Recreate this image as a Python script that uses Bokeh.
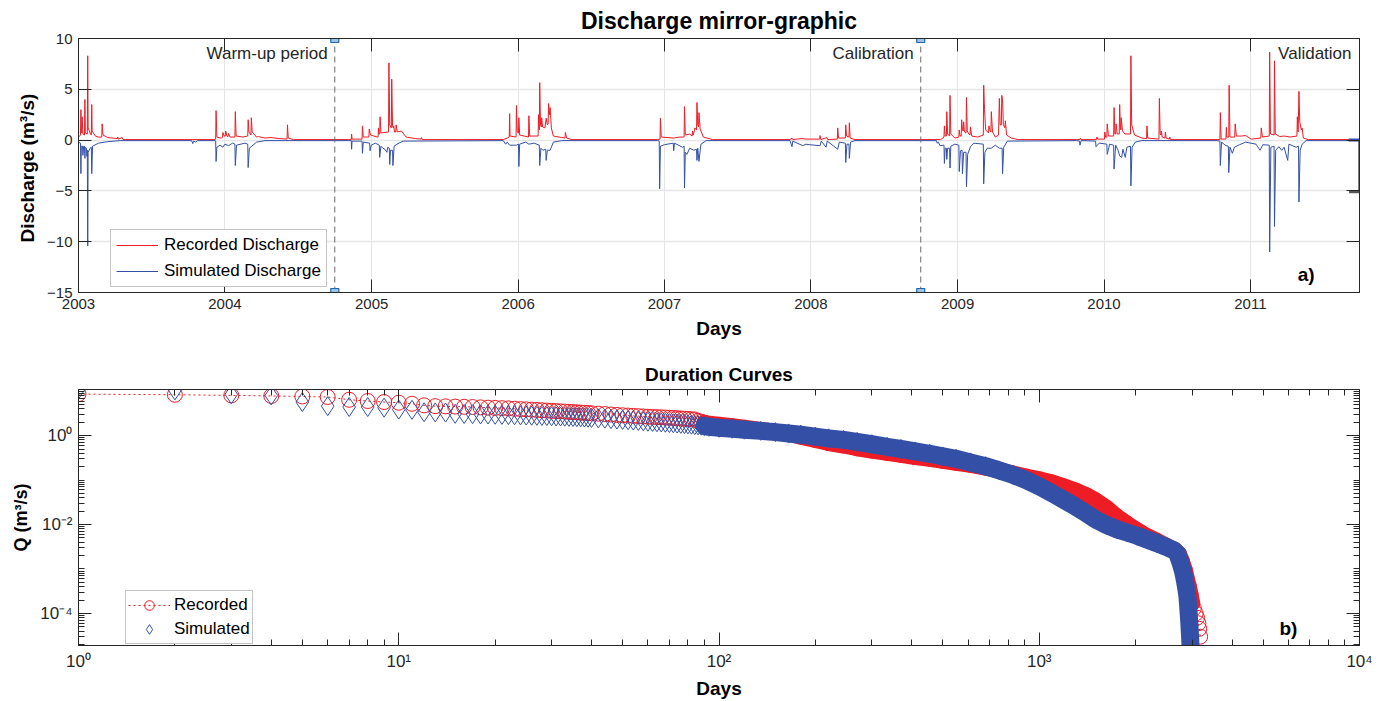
import numpy as np
import pandas as pd
from bokeh.plotting import figure
from bokeh.layouts import column
from bokeh.models import (Range1d, FixedTicker, DatetimeTickFormatter, LinearAxis,
                          LogAxis, Legend, LegendItem, CustomJSTickFormatter)
from bokeh.core.properties import value
from bokeh.embed import file_html
from bokeh.resources import INLINE

# ---------------- (a) discharge time series (m3/s) ----------------
rec_dates = [
    # 2003
    "2003-01-01", "2003-01-06", "2003-01-07", "2003-01-08", "2003-01-09", "2003-01-10", "2003-01-12",
    "2003-01-16", "2003-01-17", "2003-01-18", "2003-01-23", "2003-01-24", "2003-01-25", "2003-01-31",
    "2003-02-02", "2003-02-03", "2003-02-04", "2003-02-12", "2003-02-20", "2003-02-28", "2003-03-01",
    "2003-03-03", "2003-03-15", "2003-04-08", "2003-04-09", "2003-04-10", "2003-04-20", "2003-04-22",
    # 2003-2004
    "2003-12-08", "2003-12-09", "2003-12-10", "2003-12-12", "2003-12-22", "2003-12-26", "2003-12-27",
    "2003-12-30", "2004-01-02", "2004-01-03", "2004-01-06", "2004-01-09", "2004-01-10", "2004-01-14",
    "2004-01-26", "2004-01-27", "2004-01-29", "2004-02-15", "2004-02-27", "2004-02-28", "2004-03-01",
    "2004-03-06", "2004-03-07", "2004-03-09", "2004-03-20", "2004-03-25", "2004-04-10", "2004-04-25",
    "2004-05-15", "2004-06-04", "2004-06-05", "2004-06-07", "2004-06-20",
    # 2004-2005
    "2004-11-05", "2004-11-11", "2004-11-12", "2004-11-13", "2004-12-08", "2004-12-09", "2004-12-11",
    "2004-12-25", "2004-12-26", "2004-12-29", "2005-01-15", "2005-01-17", "2005-01-18", "2005-01-19",
    "2005-01-21", "2005-01-22", "2005-01-24", "2005-02-12", "2005-02-13", "2005-02-15", "2005-02-19",
    "2005-02-20", "2005-02-22", "2005-02-24", "2005-02-25", "2005-02-27", "2005-03-02", "2005-03-03",
    "2005-03-06", "2005-03-16", "2005-03-28", "2005-04-20", "2005-05-04", "2005-05-05", "2005-05-07",
    # 2005-2006
    "2005-11-25", "2005-12-05", "2005-12-10", "2005-12-11", "2005-12-12", "2005-12-27", "2005-12-28",
    "2005-12-30", "2006-01-02", "2006-01-03", "2006-01-05", "2006-01-27", "2006-01-28", "2006-01-30",
    "2006-02-20", "2006-02-21", "2006-02-23", "2006-02-24", "2006-02-26", "2006-02-28", "2006-03-01",
    "2006-03-03", "2006-03-09", "2006-03-12", "2006-03-15", "2006-03-17", "2006-03-18", "2006-03-20",
    "2006-03-22", "2006-03-25", "2006-03-30", "2006-04-20", "2006-04-28", "2006-04-29", "2006-05-02",
    "2006-05-15",
    # 2006-2007
    "2006-12-15", "2006-12-21", "2006-12-22", "2006-12-24", "2007-01-24", "2007-02-07", "2007-02-19",
    "2007-02-20", "2007-02-22", "2007-03-05", "2007-03-11", "2007-03-12", "2007-03-14", "2007-03-18",
    "2007-03-22", "2007-03-23", "2007-03-25", "2007-03-27", "2007-03-28", "2007-03-31", "2007-04-08",
    "2007-05-01",
    # 2007-2008
    "2007-11-10", "2007-11-15", "2007-11-17", "2007-12-10", "2007-12-20", "2008-01-23", "2008-01-24",
    "2008-01-26", "2008-02-10", "2008-02-12", "2008-03-07", "2008-03-08", "2008-03-10", "2008-03-27",
    "2008-03-28", "2008-03-30", "2008-04-05", "2008-04-06", "2008-04-08", "2008-04-20",
    # 2008-2009
    "2008-11-20", "2008-11-28", "2008-11-29", "2008-12-01", "2008-12-04", "2008-12-05", "2008-12-07",
    "2008-12-12", "2008-12-13", "2008-12-15", "2008-12-25", "2009-01-04", "2009-01-05", "2009-01-07",
    "2009-01-10", "2009-01-11", "2009-01-13", "2009-01-15", "2009-01-16", "2009-01-18", "2009-01-22",
    "2009-01-23", "2009-01-25", "2009-01-29", "2009-02-01", "2009-02-02", "2009-02-05", "2009-02-20",
    "2009-03-06", "2009-03-07", "2009-03-09", "2009-03-12", "2009-03-19", "2009-03-20", "2009-03-23",
    "2009-03-25", "2009-03-26", "2009-03-29", "2009-04-05", "2009-04-13", "2009-04-15", "2009-04-17",
    "2009-04-20", "2009-04-21", "2009-04-23", "2009-04-25", "2009-04-29", "2009-04-30", "2009-05-03",
    "2009-05-15", "2009-06-01",
    # 2009-2010
    "2009-10-25", "2009-11-02", "2009-11-03", "2009-11-05", "2009-12-13", "2009-12-14", "2009-12-16",
    "2010-01-02", "2010-01-03", "2010-01-05", "2010-01-08", "2010-01-09", "2010-01-12", "2010-01-25",
    "2010-01-26", "2010-01-28", "2010-01-30", "2010-01-31", "2010-02-03", "2010-02-08", "2010-02-09",
    "2010-02-11", "2010-02-12", "2010-02-13", "2010-02-16", "2010-02-22", "2010-03-08", "2010-03-09",
    "2010-03-11", "2010-03-18", "2010-04-06", "2010-04-17", "2010-04-18", "2010-04-20", "2010-05-18",
    "2010-05-19", "2010-05-21", "2010-05-23", "2010-05-24", "2010-05-26", "2010-06-02", "2010-06-03",
    "2010-06-05", "2010-06-13", "2010-06-14", "2010-06-16",
    # 2010-2011
    "2010-10-10", "2010-10-17", "2010-10-18", "2010-10-20", "2010-11-01", "2010-11-02", "2010-11-03",
    "2010-11-08", "2010-11-09", "2010-11-11", "2010-11-23", "2010-11-24", "2010-11-27", "2010-12-10",
    "2010-12-19", "2010-12-22", "2011-01-03", "2011-01-27", "2011-01-28", "2011-01-31", "2011-02-17",
    "2011-02-18", "2011-02-20", "2011-03-01", "2011-03-02", "2011-03-04", "2011-03-15", "2011-03-26",
    "2011-04-10", "2011-04-27", "2011-04-28", "2011-04-30", "2011-05-02", "2011-05-04", "2011-05-08",
    "2011-05-10", "2011-05-13", "2011-05-25", "2011-09-30",
]
rec_q = [
    # 2003
    0.3, 0.5, 3.0, 0.8, 0.7, 2.3, 0.6,
    0.5, 4.0, 0.7, 0.6, 8.3, 1.2, 0.6,
    0.5, 3.5, 0.9, 0.4, 0.3, 0.3, 1.6,
    0.5, 0.25, 0.15, 0.3, 0.1, 0.25, 0.05,
    # 2003-2004
    0.05, 0.1, 2.9, 0.3, 0.2, 0.25, 0.75,
    0.4, 0.4, 0.9, 0.4, 0.35, 0.65, 0.3,
    0.3, 2.8, 0.4, 0.3, 0.4, 2.0, 0.8,
    0.5, 2.2, 0.8, 0.3, 0.35, 0.2, 0.25,
    0.15, 0.1, 1.5, 0.2, 0.05,
    # 2004-2005
    0.05, 0.05, 0.6, 0.1, 0.1, 1.4, 0.3,
    0.3, 1.1, 0.5, 0.3, 0.3, 1.2, 0.6,
    0.6, 2.3, 0.7, 0.8, 7.6, 1.5, 1.2,
    6.0, 1.4, 1.2, 1.4, 0.8, 0.8, 1.5,
    0.8, 0.9, 0.3, 0.15, 0.1, 0.25, 0.05,
    # 2005-2006
    0.05, 0.2, 0.3, 2.6, 0.4, 0.3, 3.4,
    0.8, 0.7, 2.2, 0.5, 0.3, 2.4, 0.4,
    0.4, 2.5, 1.0, 5.65, 1.5, 1.3, 2.2,
    1.3, 1.2, 2.15, 1.5, 1.6, 3.6, 2.5,
    3.2, 1.2, 0.4, 0.25, 0.2, 0.75, 0.2,
    0.05,
    # 2006-2007
    0.05, 0.1, 2.15, 0.3, 0.2, 0.3, 0.3,
    3.3, 0.5, 0.6, 0.4, 0.9, 0.5, 1.2,
    1.0, 3.7, 1.5, 1.3, 2.7, 1.1, 0.3,
    0.05,
    # 2007-2008
    0.05, 0.2, 0.05, 0.15, 0.1, 0.1, 0.45,
    0.05, 0.25, 0.05, 0.1, 1.2, 0.2, 0.2,
    1.5, 0.4, 0.3, 1.7, 0.2, 0.05,
    # 2008-2009
    0.05, 0.3, 1.4, 0.4, 0.4, 2.8, 0.6,
    0.4, 4.4, 0.6, 0.2, 0.3, 1.0, 0.4,
    0.4, 2.0, 1.0, 0.9, 1.8, 0.8, 0.7,
    4.2, 0.9, 0.6, 0.5, 1.3, 0.4, 0.3,
    0.5, 5.4, 3.0, 1.0, 0.7, 1.4, 0.9,
    0.8, 2.8, 0.8, 0.3, 0.5, 4.1, 1.5,
    1.5, 4.4, 4.0, 1.5, 1.2, 1.9, 0.5,
    0.2, 0.05,
    # 2009-2010
    0.05, 0.05, 0.2, 0.05, 0.05, 0.3, 0.1,
    0.1, 0.8, 0.3, 0.3, 1.6, 0.4, 0.4,
    3.2, 0.6, 0.6, 1.6, 0.6, 0.6, 3.5,
    1.2, 1.0, 2.2, 0.9, 0.6, 0.6, 8.3,
    1.5, 0.5, 0.2, 0.15, 1.4, 0.2, 0.1,
    4.1, 0.6, 0.5, 0.9, 0.3, 0.2, 0.8,
    0.2, 0.1, 0.3, 0.05,
    # 2010-2011
    0.05, 0.05, 2.7, 0.1, 0.1, 1.25, 0.3,
    0.3, 5.4, 0.3, 0.3, 1.6, 0.4, 0.4,
    0.45, 0.4, 0.1, 0.2, 1.2, 0.3, 0.4,
    8.65, 0.6, 0.5, 7.8, 0.6, 0.35, 0.4,
    0.3, 0.4, 2.3, 0.8, 4.8, 1.8, 1.0,
    1.2, 0.2, 0.05, 0.05,
]

sim_dates = [
    # 2003
    "2003-01-01", "2003-01-06", "2003-01-07", "2003-01-08", "2003-01-11", "2003-01-12", "2003-01-14",
    "2003-01-16", "2003-01-17", "2003-01-18", "2003-01-21", "2003-01-22", "2003-01-23", "2003-01-24",
    "2003-01-25", "2003-01-30", "2003-02-02", "2003-02-03", "2003-02-05", "2003-02-20", "2003-03-15",
    "2003-04-15", "2003-10-10", "2003-10-13", "2003-10-15", "2003-10-20", "2003-10-25",
    # 2003-2004
    "2003-12-08", "2003-12-09", "2003-12-10", "2003-12-12", "2003-12-20", "2003-12-27", "2004-01-01",
    "2004-01-10", "2004-01-20", "2004-01-26", "2004-01-27", "2004-01-30", "2004-02-20", "2004-02-27",
    "2004-02-28", "2004-03-02", "2004-03-08", "2004-03-20", "2004-04-10",
    # 2004-2005
    "2004-11-05", "2004-11-11", "2004-11-12", "2004-11-13", "2004-12-08", "2004-12-09", "2004-12-11",
    "2004-12-27", "2004-12-28", "2004-12-31", "2005-01-10", "2005-01-20", "2005-01-21", "2005-01-24",
    "2005-01-29", "2005-02-03", "2005-02-08", "2005-02-10", "2005-02-14", "2005-02-15", "2005-02-17",
    "2005-02-22", "2005-02-23", "2005-02-26", "2005-03-05", "2005-03-20",
    # 2005-2006
    "2005-11-25", "2005-12-01", "2005-12-05", "2005-12-11", "2005-12-28", "2006-01-02", "2006-01-03",
    "2006-01-05", "2006-01-20", "2006-01-28", "2006-02-10", "2006-02-23", "2006-02-24", "2006-02-27",
    "2006-03-04", "2006-03-11", "2006-03-12", "2006-03-15", "2006-03-22", "2006-03-30", "2006-04-20",
    # 2006-2007
    "2006-12-15", "2006-12-19", "2006-12-20", "2006-12-22", "2007-01-01", "2007-01-23", "2007-01-24",
    "2007-01-26", "2007-02-15", "2007-02-19", "2007-02-20", "2007-02-22", "2007-02-26", "2007-03-05",
    "2007-03-15", "2007-03-22", "2007-03-23", "2007-03-25", "2007-03-28", "2007-04-02", "2007-04-15",
    # 2007-2008
    "2007-11-10", "2007-11-15", "2007-11-17", "2007-12-12", "2007-12-20", "2007-12-28", "2008-01-24",
    "2008-01-27", "2008-02-08", "2008-02-11", "2008-03-08", "2008-03-12", "2008-03-27", "2008-03-28",
    "2008-03-31", "2008-04-05", "2008-04-06", "2008-04-09", "2008-04-20", "2008-11-09", "2008-11-11",
    "2008-11-14", "2008-11-18",
    # 2008-2009
    "2008-11-28", "2008-11-29", "2008-12-01", "2008-12-04", "2008-12-05", "2008-12-07", "2008-12-12",
    "2008-12-13", "2008-12-15", "2008-12-25", "2009-01-04", "2009-01-05", "2009-01-08", "2009-01-12",
    "2009-01-13", "2009-01-16", "2009-01-22", "2009-01-23", "2009-01-26", "2009-02-02", "2009-02-10",
    "2009-03-06", "2009-03-07", "2009-03-10", "2009-03-16", "2009-03-26", "2009-04-05", "2009-04-15",
    "2009-04-22", "2009-04-23", "2009-04-26", "2009-05-05",
    # 2009-2010
    "2009-10-25", "2009-11-01", "2009-11-02", "2009-11-05", "2009-12-11", "2009-12-12", "2009-12-20",
    "2010-01-08", "2010-01-09", "2010-01-15", "2010-01-25", "2010-01-26", "2010-01-30", "2010-02-05",
    "2010-02-09", "2010-02-14", "2010-02-17", "2010-02-23", "2010-02-27", "2010-03-08", "2010-03-09",
    "2010-03-12", "2010-03-20", "2010-04-05",
    # 2010-2011
    "2010-10-10", "2010-10-17", "2010-10-18", "2010-10-21", "2010-11-01", "2010-11-07", "2010-11-08",
    "2010-11-11", "2010-11-17", "2010-11-22", "2010-12-05", "2010-12-20", "2011-01-15", "2011-01-25",
    "2011-02-01", "2011-02-17", "2011-02-18", "2011-02-21", "2011-03-01", "2011-03-02", "2011-03-05",
    "2011-03-13", "2011-03-20", "2011-03-26", "2011-04-04", "2011-04-07", "2011-04-25", "2011-05-01",
    "2011-05-02", "2011-05-05", "2011-05-10", "2011-05-20", "2011-09-30",
]
sim_q = [
    # 2003
    0.2, 0.3, 3.3, 0.6, 0.6, 1.5, 0.6,
    0.6, 1.8, 0.7, 0.8, 1.6, 1.0, 10.4,
    1.2, 0.8, 0.7, 3.3, 0.6, 0.3, 0.15,
    0.05, 0.05, 0.35, 0.1, 0.2, 0.05,
    # 2003-2004
    0.05, 0.1, 2.1, 0.7, 0.5, 0.7, 0.4,
    0.55, 0.3, 0.4, 2.5, 0.5, 0.3, 0.4,
    2.7, 0.8, 0.6, 0.2, 0.05,
    # 2004-2005
    0.05, 0.05, 0.9, 0.1, 0.1, 1.3, 0.2,
    0.3, 1.05, 0.5, 0.3, 0.5, 1.7, 0.6,
    0.8, 0.9, 1.2, 0.7, 0.8, 2.4, 1.0,
    1.0, 2.5, 0.6, 0.4, 0.1,
    # 2005-2006
    0.05, 0.4, 0.2, 0.5, 0.5, 0.4, 2.6,
    0.4, 0.2, 0.4, 0.3, 0.5, 2.5, 0.8,
    1.0, 0.9, 2.0, 1.0, 1.0, 0.2, 0.05,
    # 2006-2007
    0.05, 0.1, 4.8, 0.6, 0.45, 0.3, 1.05,
    0.3, 0.7, 0.6, 4.7, 1.2, 1.4, 0.8,
    1.0, 0.9, 2.0, 0.8, 2.1, 0.4, 0.05,
    # 2007-2008
    0.05, 0.65, 0.1, 0.55, 0.4, 0.45, 0.55,
    0.1, 0.7, 0.1, 0.9, 0.2, 0.3, 2.2,
    0.4, 0.4, 1.8, 0.2, 0.05, 0.05, 0.3,
    0.2, 0.55,
    # 2008-2009
    0.5, 2.3, 0.8, 0.8, 1.9, 0.8, 0.8,
    2.75, 0.6, 0.4, 0.5, 3.1, 1.05, 1.0,
    3.3, 1.2, 1.2, 4.6, 1.4, 0.65, 0.3,
    0.4, 4.3, 1.2, 0.8, 0.8, 0.5, 0.8,
    0.8, 3.3, 0.7, 0.1,
    # 2009-2010
    0.05, 0.1, 0.5, 0.05, 0.1, 0.65, 0.3,
    0.4, 1.4, 0.4, 0.5, 2.85, 0.5, 1.0,
    1.55, 1.7, 0.9, 1.7, 0.7, 0.6, 4.5,
    0.7, 0.2, 0.05,
    # 2010-2011
    0.05, 0.1, 2.5, 0.2, 0.55, 0.6, 3.2,
    0.7, 1.3, 0.7, 0.45, 0.2, 0.4, 1.0,
    0.45, 0.5, 11.0, 0.7, 0.6, 8.5, 1.0,
    0.65, 1.0, 0.7, 2.0, 0.4, 0.7, 0.6,
    6.1, 1.0, 0.4, 0.05, 0.05,
]

period_ends = ["2004-10-01", "2008-10-01"]
period_labels = ["Warm-up period", "Calibration", "Validation"]
year_ticks = [str(y) for y in range(2003, 2012)]

# ---------------- (b) duration curves ----------------
rec_rank = list(range(1, 41)) + [42, 44, 46, 48, 50, 52, 54, 56, 58, 60,
                                62, 64, 66, 68, 70, 72, 74, 76, 78, 80,
                                82, 84, 86, 88, 90]
rec_rank_q = [8.6, 8.3, 8.05, 7.8, 7.6, 7.4, 6.4, 6.0, 5.7, 5.5,
              5.2, 4.8, 4.6, 4.55, 4.5, 4.45, 4.4, 4.32, 4.25, 4.2,
              4.15, 4.1, 4.02, 3.95, 3.9, 3.84, 3.78, 3.72, 3.66, 3.6,
              3.56, 3.52, 3.47, 3.42, 3.38, 3.34, 3.3, 3.26, 3.22, 3.18,
              3.12, 3.05, 2.98, 2.92, 2.87, 2.82, 2.78, 2.74, 2.7, 2.66,
              2.63, 2.6, 2.58, 2.55, 2.52, 2.49, 2.46, 2.43, 2.4, 2.37,
              2.34, 2.3, 2.15, 2.05, 1.95]
rec_tail_rank = [93, 100, 110, 120, 135, 150, 165, 180, 200, 220, 245, 270, 300, 335, 370,
                 410, 455, 500, 550, 610, 680, 750, 830, 910, 1000, 1100, 1200, 1300, 1400,
                 1500, 1620, 1750, 1880, 2020, 2170, 2330, 2500, 2640, 2730, 2790, 2850,
                 2890, 2933, 2970, 3004]
rec_tail_q = [1.85, 1.75, 1.62, 1.5, 1.35, 1.22, 1.1, 0.95, 0.8, 0.68, 0.6, 0.52, 0.46, 0.41, 0.37,
              0.33, 0.3, 0.27, 0.245, 0.22, 0.19, 0.165, 0.14, 0.12, 0.104, 0.088, 0.071, 0.058, 0.046,
              0.035, 0.024, 0.015, 0.0105, 0.0075, 0.0055, 0.0043, 0.0033, 0.0027, 0.0022, 0.0015, 0.00094,
              0.0006, 0.0004, 0.00026, 0.00017]
rec_end_rank = [3040, 3080, 3110, 3140, 3160, 3180]
rec_end_q = [0.00013, 0.0001, 0.00008, 0.00006, 0.000045, 0.00003]

sim_rank = list(range(1, 41)) + [42, 44, 46, 48, 50, 52, 54, 56, 58, 60,
                                62, 64, 66, 68, 70, 72, 74, 76, 78, 80,
                                82, 84, 86, 88, 90]
sim_rank_q = [10.9, 10.4, 8.5, 8.0, 5.7, 4.6, 4.4, 4.4, 4.25, 3.85,
              3.8, 3.35, 3.33, 3.3, 3.1, 3.07, 3.04, 3.0, 2.98, 2.95,
              2.93, 2.9, 2.88, 2.85, 2.83, 2.8, 2.79, 2.77, 2.75, 2.73,
              2.71, 2.69, 2.66, 2.64, 2.62, 2.6, 2.58, 2.55, 2.53, 2.5,
              2.45, 2.4, 2.35, 2.3, 2.26, 2.22, 2.18, 2.14, 2.1, 2.06,
              2.03, 2.0, 1.98, 1.95, 1.92, 1.9, 1.87, 1.84, 1.82, 1.79,
              1.76, 1.72, 1.7, 1.67, 1.64]
sim_tail_rank = [93, 100, 110, 120, 135, 150, 165, 180, 200, 220, 245, 270, 300, 335, 370,
                 410, 455, 500, 550, 610, 680, 750, 830, 910, 1000, 1100, 1200, 1300, 1400,
                 1500, 1620, 1750, 1880, 2020, 2170, 2330, 2500, 2640, 2700, 2760, 2810,
                 2850, 2880, 2900, 2915, 2928, 2940, 2950, 2958, 2965]
sim_tail_q = [1.58, 1.5, 1.43, 1.36, 1.28, 1.2, 1.12, 1.05, 0.95, 0.87, 0.8, 0.72, 0.64, 0.56, 0.5,
              0.44, 0.39, 0.34, 0.3, 0.25, 0.205, 0.165, 0.13, 0.1, 0.072, 0.05, 0.035, 0.025, 0.018,
              0.013, 0.0098, 0.0078, 0.0066, 0.0056, 0.0046, 0.0038, 0.0031, 0.0026, 0.0022, 0.0014, 0.0009,
              0.00055, 0.00035, 0.00025, 0.00016, 0.0001, 0.000065, 0.000042, 0.00003, 0.000021]

assert len(rec_dates) == len(rec_q), (len(rec_dates), len(rec_q))
assert len(sim_dates) == len(sim_q), (len(sim_dates), len(sim_q))
assert len(rec_rank) == len(rec_rank_q), (len(rec_rank), len(rec_rank_q))
assert len(sim_rank) == len(sim_rank_q), (len(sim_rank), len(sim_rank_q))
assert len(rec_tail_rank) == len(rec_tail_q)
assert len(sim_tail_rank) == len(sim_tail_q)

RED = "#EE1C25"
BLUE = "#3450A6"
DARK = "#262626"
FONT = "Liberation Sans"

BLANK = CustomJSTickFormatter(code="return '';")
POW10 = CustomJSTickFormatter(code="""
const sup = {'-5':'\u207b\u2075','-4':'\u207b\u2074','-3':'\u207b\u00b3','-2':'\u207b\u00b2',
             '-1':'\u207b\u00b9','0':'\u2070','1':'\u00b9','2':'\u00b2','3':'\u00b3','4':'\u2074'};
const e = Math.round(Math.log10(tick));
return '10' + sup[String(e)];
""")


def style_axis(ax, tick_len=13, label_size="15px", show_labels=True):
    ax.axis_line_color = DARK
    ax.axis_line_width = 1
    ax.major_tick_line_color = DARK
    ax.minor_tick_line_color = DARK
    ax.major_tick_in = tick_len
    ax.major_tick_out = 0
    ax.minor_tick_in = 0
    ax.minor_tick_out = 0
    ax.major_label_text_font = FONT
    ax.major_label_text_color = DARK
    ax.major_label_text_font_size = label_size
    ax.major_label_standoff = 6 if show_labels else 0
    if not show_labels:
        ax.formatter = BLANK
    ax.axis_label_text_font = FONT
    ax.axis_label_text_font_style = "bold"
    ax.axis_label_text_color = "#000000"


# ================= top panel =================
t0 = pd.Timestamp("2003-01-01")
t1 = pd.Timestamp("2011-09-30")
p1 = figure(width=1384, height=352, x_axis_type="datetime", output_backend="svg",
            toolbar_location=None, x_range=Range1d(t0, t1), y_range=Range1d(-15, 10),
            min_border_left=78, min_border_right=25, min_border_top=37, min_border_bottom=60)
p1.title.text = "Discharge mirror-graphic"
p1.title.align = "center"
p1.title.text_font = FONT
p1.title.text_font_size = "23px"
p1.title.text_font_style = "bold"
p1.title.text_color = "#000000"
p1.outline_line_color = DARK

yr_ms = [pd.Timestamp(f"{y}-01-01").value / 1e6 for y in year_ticks]
xt = FixedTicker(ticks=yr_ms)
yt = FixedTicker(ticks=[-15, -10, -5, 0, 5, 10])
fmt = DatetimeTickFormatter(years="%Y", months="%Y", days="%Y", hours="%Y", minutes="%Y",
                            seconds="%Y", milliseconds="%Y", microseconds="%Y")

p1.xaxis.ticker = xt
p1.xaxis.formatter = fmt
p1.yaxis.ticker = yt
style_axis(p1.xaxis[0])
style_axis(p1.yaxis[0])
p1.xaxis.axis_label = "Days"
p1.xaxis.axis_label_text_font_size = "19px"
p1.xaxis.axis_label_standoff = 6
p1.yaxis.axis_label = "Discharge  (m³/s)"
p1.yaxis.axis_label_text_font_size = "19px"
p1.yaxis.axis_label_standoff = 6

top_ax = LinearAxis(ticker=xt)
style_axis(top_ax, show_labels=False)
p1.add_layout(top_ax, "above")
right_ax = LinearAxis(ticker=yt)
style_axis(right_ax, show_labels=False)
p1.add_layout(right_ax, "right")

p1.xgrid.ticker = xt
p1.ygrid.ticker = yt
p1.xgrid.grid_line_color = "#E6E6E6"
p1.ygrid.grid_line_color = "#E6E6E6"
p1.xgrid.grid_line_width = 1
p1.ygrid.grid_line_width = 1.5

rx = pd.to_datetime(rec_dates)
sx = pd.to_datetime(sim_dates)
r_rec = p1.line(rx, rec_q, line_color=RED, line_width=1)
r_sim = p1.line(sx, [-v for v in sim_q], line_color=BLUE, line_width=1)

pe = pd.to_datetime(period_ends)
p1.segment(x0=pe, y0=[-15, -15], x1=pe, y1=[10, 10], line_color="#6b6b6b",
           line_dash="6 4", line_width=1)
p1.scatter(x=list(pe) + list(pe), y=[10, 10, -15, -15], marker="square", size=8,
           fill_color="#9cc3e5", line_color="#2066a8", line_width=1.2)

lbl_x = list(pe) + [t1]
p1.text(x=lbl_x, y=[8.55, 8.55, 8.55], text=period_labels, text_align="right",
        text_baseline="middle", x_offset=[-7, -7, -8], text_font=value(FONT),
        text_font_size="17px", text_color=DARK)
p1.text(x=[pd.Timestamp("2011-05-20")], y=[-13.2], text=["a)"], text_align="center",
        text_baseline="middle", text_font=value(FONT), text_font_size="19px",
        text_font_style="bold", text_color="#000000")

# small artifact at the right edge
p1.segment(x0=[pd.Timestamp("2011-09-03")], y0=[0], x1=[t1], y1=[0], line_color=BLUE, line_width=3)
p1.segment(x0=[t1, pd.Timestamp("2011-09-04")], y0=[0, -5.1], x1=[t1, t1], y1=[-5.1, -5.1],
           line_color="#555555", line_width=2.5)

leg1 = Legend(items=[LegendItem(label="Recorded Discharge", renderers=[r_rec]),
                     LegendItem(label="Simulated Discharge", renderers=[r_sim])],
              location=(32, 5))
leg1.label_text_font = FONT
leg1.label_text_font_size = "17px"
leg1.label_text_color = "#000000"
leg1.glyph_width = 42
leg1.glyph_height = 18
leg1.label_standoff = 6
leg1.spacing = 6
leg1.padding = 5
leg1.margin = 0
leg1.border_line_color = "#8a8a8a"
leg1.border_line_width = 1
leg1.background_fill_alpha = 1
p1.add_layout(leg1)

# ================= bottom panel =================
p2 = figure(width=1384, height=349, x_axis_type="log", y_axis_type="log", output_backend="svg",
            toolbar_location=None, x_range=Range1d(1, 1e4), y_range=Range1d(1.9e-5, 10.9),
            min_border_left=78, min_border_right=25, min_border_top=37, min_border_bottom=56)
p2.title.text = "Duration Curves"
p2.title.align = "center"
p2.title.text_font = FONT
p2.title.text_font_size = "19px"
p2.title.text_font_style = "bold"
p2.title.text_color = "#000000"
p2.outline_line_color = DARK
p2.xgrid.visible = False
p2.ygrid.visible = False

x_major = [1, 10, 100, 1000, 10000]
x_minor = [k * 10 ** e for e in range(0, 4) for k in range(2, 10)]
y_major = [1e-4, 1e-2, 1]
y_minor = [k * 10.0 ** e for e in range(-5, 2) for k in range(1, 10)]
xlt = FixedTicker(ticks=x_major, minor_ticks=x_minor)
ylt = FixedTicker(ticks=y_major, minor_ticks=y_minor)

p2.xaxis.ticker = xlt
p2.yaxis.ticker = ylt
style_axis(p2.xaxis[0], label_size="17px")
style_axis(p2.yaxis[0], label_size="17px")
p2.xaxis.formatter = POW10
p2.yaxis.formatter = POW10
for ax in (p2.xaxis[0], p2.yaxis[0]):
    ax.minor_tick_in = 6
p2.xaxis.axis_label = "Days"
p2.xaxis.axis_label_text_font_size = "19px"
p2.xaxis.axis_label_standoff = 4
p2.yaxis.axis_label = "Q (m³/s)"
p2.yaxis.axis_label_text_font_size = "18px"
p2.yaxis.axis_label_standoff = 6

top2 = LogAxis(ticker=xlt)
style_axis(top2, show_labels=False)
top2.minor_tick_in = 6
p2.add_layout(top2, "above")
right2 = LogAxis(ticker=ylt)
style_axis(right2, show_labels=False)
right2.minor_tick_in = 6
p2.add_layout(right2, "right")

all_rec_rank = rec_rank + rec_tail_rank + rec_end_rank
all_rec_q = rec_rank_q + rec_tail_q + rec_end_q
all_sim_rank = sim_rank + sim_tail_rank
all_sim_q = sim_rank_q + sim_tail_q

# recorded: dotted connecting line, dense band of overlapping circles, hollow circles
r_line = p2.line(all_rec_rank, all_rec_q, line_color=RED, line_dash="2 3", line_width=1)
p2.line([90] + rec_tail_rank, [rec_rank_q[-1]] + rec_tail_q, line_color=RED, line_width=16,
        line_join="round", line_cap="round")
r_circ = p2.scatter(all_rec_rank, all_rec_q, marker="circle", size=15, fill_color=None,
                    line_color=RED, line_width=1)
# simulated: dense band, hollow diamonds
p2.line([90] + sim_tail_rank, [sim_rank_q[-1]] + sim_tail_q, line_color=BLUE, line_width=18,
        line_join="round", line_cap="round")
r_dia = p2.scatter(all_sim_rank, all_sim_q, marker="diamond", size=19, fill_color=None,
                   line_color=BLUE, line_width=1)

p2.text(x=[6000], y=[4.7e-5], text=["b)"], text_align="center", text_baseline="middle",
        text_font=value(FONT), text_font_size="19px", text_font_style="bold", text_color="#000000")

leg2 = Legend(items=[LegendItem(label="Recorded", renderers=[r_line, r_circ]),
                     LegendItem(label="Simulated", renderers=[r_dia])],
              location=(47, 1))
leg2.label_text_font = FONT
leg2.label_text_font_size = "17px"
leg2.label_text_color = "#000000"
leg2.glyph_width = 42
leg2.glyph_height = 24
leg2.label_standoff = 4
leg2.spacing = 0
leg2.padding = 2
leg2.margin = 0
leg2.border_line_color = "#8a8a8a"
leg2.background_fill_alpha = 1
p2.add_layout(leg2)

layout = column(p1, p2, spacing=0)
open("out.html", "w").write(file_html(layout, INLINE))
